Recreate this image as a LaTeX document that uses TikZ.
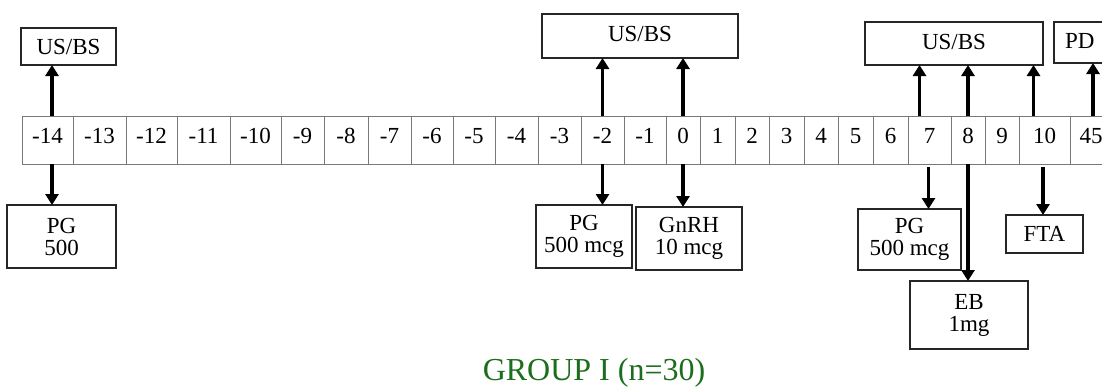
\documentclass[tikz,border=0pt]{standalone}
\usepackage{fontspec}
\setmainfont{Liberation Serif}
\usetikzlibrary{arrows.meta}
\definecolor{titlegreen}{RGB}{28,110,28}
\definecolor{cellgray}{RGB}{120,120,120}
\tikzset{
  cell/.style={draw=cellgray, line width=0.8pt, inner sep=0pt, outer sep=0pt,
    minimum height=48pt, font=\fontsize{23}{24}\selectfont, text depth=8pt},
  lbox/.style={draw=black!85, line width=1.4pt, inner sep=0pt, outer sep=0pt,
    align=center, font=\fontsize{23}{22}\selectfont},
  arr/.style={line width=3.6pt, -{Triangle[width=13pt,length=11pt]}},
  title/.style={text=titlegreen, font=\fontsize{32}{34}\selectfont}
}
\begin{document}
\begin{tikzpicture}[x=1pt,y=-1pt]
\useasboundingbox (0,0) rectangle (1102,388);
\fill[white] (0,0) rectangle (1102,388);
% timeline cells
\foreach \l/\a/\b [count=\i] in {-14/22/73,-13/73/126,-12/126/177,-11/177/230,-10/230/281,-9/281/324,-8/324/368,-7/368/411,-6/411/453,-5/453/495,-4/495/538,-3/538/581,-2/581/624,-1/624/666,0/666/700,1/700/735,2/735/769,3/769/804,4/804/838,5/838/873,6/873/908,7/908/951,8/951/985,9/985/1019,10/1019/1070,45/1070/1112}
  \node[cell, minimum width={(\b-\a)*1pt}] (c\i) at ({(\a+\b)/2},140) {\l};
% boxes
\node[lbox, minimum width=95pt, minimum height=37pt] (us1) at (68.5,46.5) {US/BS};
\node[lbox, minimum width=109pt, minimum height=63pt] (pg1) at (61.5,236.5) {PG\\500};
\node[lbox, minimum width=196pt, minimum height=44pt, text depth=5pt] (us2) at (640,36) {US/BS};
\node[lbox, minimum width=96pt, minimum height=63pt] (pg2) at (584,236.5) {PG\\500 mcg};
\node[lbox, minimum width=106pt, minimum height=63pt] (gn) at (689,238.5) {GnRH\\10 mcg};
\node[lbox, minimum width=178pt, minimum height=43pt, text depth=4pt] (us3) at (954,43.5) {US/BS};
\node[lbox, minimum width=70pt, minimum height=41pt, text depth=4pt, text width=48pt, align=left] (pd) at (1089,42.5) {PD};
\node[lbox, minimum width=103pt, minimum height=61pt] (pg3) at (909.5,239.5) {PG\\500 mcg};
\node[lbox, minimum width=118pt, minimum height=68pt] (eb) at (969,315) {EB\\1mg};
\node[lbox, minimum width=77pt, minimum height=38pt] (fta) at (1044.5,234) {FTA};
% up arrows
\draw[arr] ([xshift=4.5pt]c1.north) -- ([xshift=4.5pt]c1.north |- us1.south);
\draw[arr] (c13.north) -- (c13.north |- us2.south);
\draw[arr] (c15.north) -- (c15.north |- us2.south);
\draw[arr] ([xshift=-10pt]c22.north) -- ([xshift=-10pt]c22.north |- us3.south);
\draw[arr] (c23.north) -- (c23.north |- us3.south);
\draw[arr] ([xshift=-11pt]c25.north) -- ([xshift=-11pt]c25.north |- us3.south);
\draw[arr] ([xshift=2pt]c26.north) -- ([xshift=2pt]c26.north |- pd.south);
% down arrows
\draw[arr] ([xshift=4.5pt]c1.south) -- ([xshift=4.5pt]c1.south |- pg1.north);
\draw[arr] (c13.south) -- (c13.south |- pg2.north);
\draw[arr] (c15.south) -- (c15.south |- gn.north);
\draw[arr, shorten <=3pt] ([xshift=-1pt]c22.south) -- ([xshift=-1pt]c22.south |- pg3.north);
\draw[arr] (c23.south) -- (c23.south |- eb.north);
\draw[arr, shorten <=3pt] ([xshift=-1.5pt]c25.south) -- ([xshift=-1.5pt]c25.south |- fta.north);
% title
\node[title] (ttl) at (594,373) {GROUP I (n=30)};
\end{tikzpicture}
\end{document}
